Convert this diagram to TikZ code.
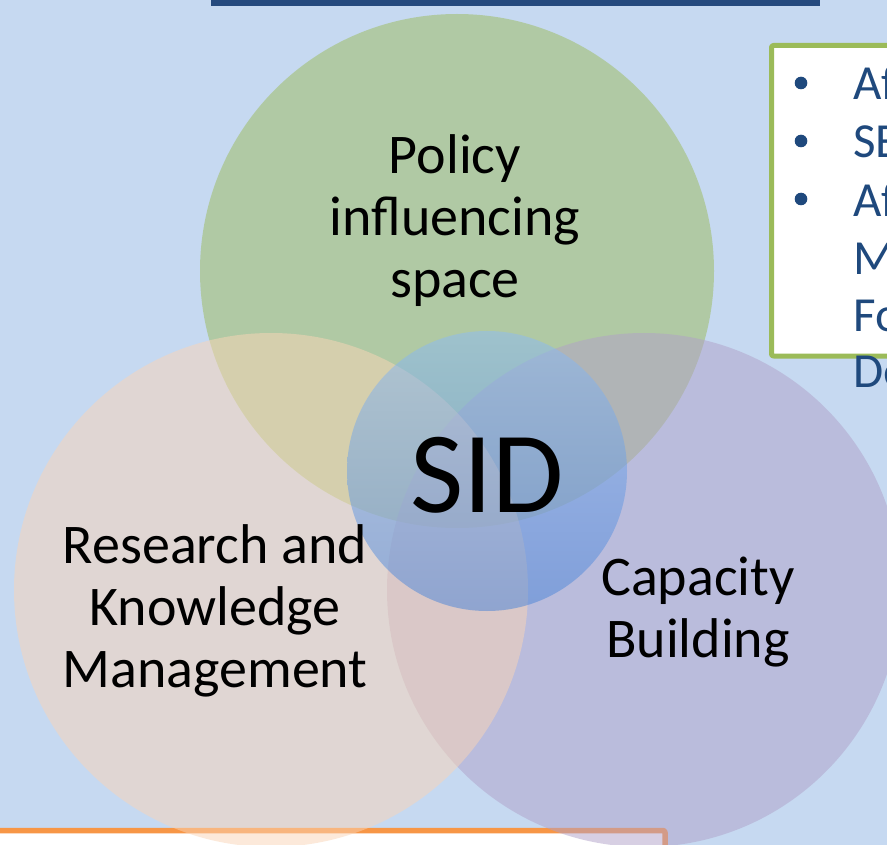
\documentclass[tikz,border=0pt]{standalone}
\usepackage{fontspec}
\setmainfont{Carlito}
\definecolor{bgblue}{RGB}{198,217,241}
\definecolor{barblue}{RGB}{37,74,126}
\definecolor{boxgreen}{RGB}{155,187,89}
\definecolor{boxorange}{RGB}{247,150,70}
\definecolor{txtblue}{RGB}{31,73,125}
\definecolor{venngreen}{RGB}{155,187,89}
\definecolor{vennpeach}{RGB}{250,213,182}
\definecolor{vennpurple}{RGB}{176,161,200}
\definecolor{sidtop}{RGB}{142,188,245}
\definecolor{sidbottom}{RGB}{70,130,215}
\tikzset{
	venntext/.style={font=\fontsize{56}{62}\selectfont, align=center, inner sep=0pt},
	bulletline/.style={font=\fontsize{49}{57}\selectfont, text=txtblue, anchor=base west, inner sep=0pt},
}
\begin{document}
\begin{tikzpicture}[x=1pt, y=-1pt, line join=round]
	\fill[bgblue] (0,0) rectangle (887,845);
	\useasboundingbox (0,0) rectangle (887,845);
	\fill[barblue] (211,-5) rectangle (820,6);
	\draw[boxorange, line width=5.5pt, fill=white, rounded corners=2pt] (-10,830.5) rectangle (665,880);
	\draw[boxgreen, line width=5pt, fill=white, rounded corners=2pt] (771.5,45.5) rectangle (900,356);
	% the three rings and the core
	\fill[venngreen, opacity=.5] (457,271) circle (257pt);
	\fill[vennpurple, opacity=.5] (644,590) circle (257pt);
	\fill[vennpeach, opacity=.5] (271,590) circle (257pt);
	\shade[top color=sidtop, bottom color=sidbottom, opacity=.5] (487,471) circle (140pt);
	\node[venntext] (policy) at (455,221) {Policy\\influencing\\space};
	\node[venntext] (research) at (215,611) {Research and\\Knowledge\\Management};
	\node[venntext] (capacity) at (698,612) {Capacity\\Building};
	\node[font=\fontsize{116}{120}\selectfont, anchor=base, inner sep=0pt] (sid) at (487,512) {SID};
	% bullet list, cut by the right edge
	\fill[txtblue] (801,83) circle (6.3pt);
	\fill[txtblue] (801,141) circle (6.3pt);
	\fill[txtblue] (801,199) circle (6.3pt);
	\node[bulletline] (af) at (853,100) {Af};
	\node[bulletline] (se) at (853,158) {SE};
	\node[bulletline] (afm) at (853,217) {Af};
	\node[bulletline] (m) at (853,275) {M};
	\node[bulletline] (fo) at (853,332) {Fo};
	\node[bulletline] (de) at (853,388) {De};
\end{tikzpicture}
\end{document}
